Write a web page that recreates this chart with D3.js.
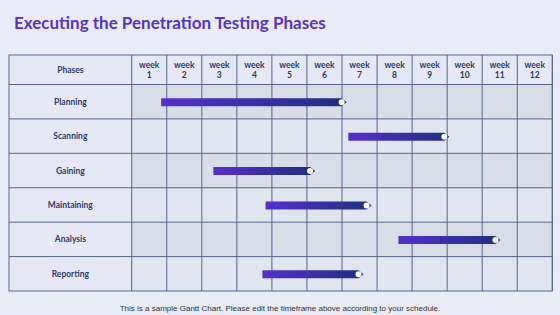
<!DOCTYPE html>
<meta charset="utf-8">
<script src="https://cdn.jsdelivr.net/npm/d3@7"></script>
<style>
body { margin: 0; background: #e9ebf6; }
.lbl { font-family: "Lato", "DejaVu Sans", sans-serif; font-weight: bold; font-size: 8.5px; fill: #2e3a6c; }
</style>
<body>
<script>
var weeks = ["1", "2", "3", "4", "5", "6", "7", "8", "9", "10", "11", "12"]
var phases = ["Planning", "Scanning", "Gaining", "Maintaining", "Analysis", "Reporting"]
var starts = [0.84, 6.18, 2.33, 3.82, 7.61, 3.73]
var ends = [5.99, 8.92, 5.09, 6.70, 10.38, 6.47]

var W = 560, H = 315
// table edges (avoid window.top name clash)
var tLeft = 9, tSplit = 131.7, tRight = 552.3, tTop = 55, tHead = 84.5, tBottom = 291

var svg = d3.select("body").append("svg").attr("width", W).attr("height", H)
svg.append("rect").attr("width", W).attr("height", H).attr("fill", "#e9ebf6")

var defs = svg.append("defs")
var grad = defs.append("linearGradient").attr("id", "barGrad")
grad.append("stop").attr("offset", "0%").attr("stop-color", "#5530cc")
grad.append("stop").attr("offset", "100%").attr("stop-color", "#1e2f7f")

svg.append("text").attr("x", 14).attr("y", 29)
  .attr("font-family", "Lato, 'DejaVu Sans', sans-serif").attr("font-weight", "bold")
  .attr("font-size", 17).attr("fill", "#5634c4")
  .text("Executing the Penetration Testing Phases")

var x = d3.scaleLinear().domain([0, weeks.length]).range([tSplit, tRight])
var y = d3.scaleBand().domain(phases).range([tHead, tBottom])
var col = d3.scaleBand().domain(weeks).range([tSplit, tRight])

// header
svg.append("rect").attr("x", tLeft).attr("y", tTop).attr("width", tRight - tLeft).attr("height", tHead - tTop).attr("fill", "#e6e9f5")
svg.append("text").attr("class", "lbl").attr("x", (tLeft + tSplit) / 2).attr("y", 73).attr("text-anchor", "middle").text("Phases")

var hd = svg.selectAll(".hd").data(weeks).enter().append("g")
hd.append("text").attr("class", "lbl").attr("x", d => col(d) + col.bandwidth() / 2).attr("y", 68).attr("text-anchor", "middle").text("week")
hd.append("text").attr("class", "lbl").attr("x", d => col(d) + col.bandwidth() / 2).attr("y", 78).attr("text-anchor", "middle").text(d => d)

// rows
svg.selectAll(".pc").data(phases).enter().append("rect")
  .attr("x", tLeft).attr("y", d => y(d)).attr("width", tSplit - tLeft).attr("height", y.bandwidth())
  .attr("fill", "#e6e9f5")
svg.selectAll(".wc").data(phases).enter().append("rect")
  .attr("x", tSplit).attr("y", d => y(d)).attr("width", tRight - tSplit).attr("height", y.bandwidth())
  .attr("fill", (d, i) => i % 2 == 0 ? "#d8dde8" : "#e1e5ef")
svg.selectAll(".pl").data(phases).enter().append("text").attr("class", "lbl")
  .attr("x", (tLeft + tSplit) / 2).attr("y", d => y(d) + y.bandwidth() / 2 + 3)
  .attr("text-anchor", "middle").text(d => d)

// grid
var g = svg.append("g").attr("stroke", "#56648e").attr("stroke-width", 1).attr("fill", "none")
g.selectAll(".v").data(d3.range(weeks.length + 1)).enter().append("line")
  .attr("x1", d => x(d)).attr("x2", d => x(d)).attr("y1", tTop).attr("y2", tBottom)
g.selectAll(".h").data(phases).enter().append("line")
  .attr("x1", tLeft).attr("x2", tRight).attr("y1", d => y(d)).attr("y2", d => y(d))
g.append("rect").attr("x", tLeft).attr("y", tTop).attr("width", tRight - tLeft).attr("height", tBottom - tTop)

// bars
var bh = 4
phases.forEach(function (p, i) {
  var cy = y(p) + y.bandwidth() / 2 + 0.5
  var x0 = x(starts[i]), x1 = x(ends[i])
  svg.append("path")
    .attr("d", "M" + x0 + "," + (cy - bh) + "H" + x1 + "L" + (x1 + 5) + "," + cy + "L" + x1 + "," + (cy + bh) + "H" + x0 + "Z")
    .attr("fill", "url(#barGrad)")
  svg.append("circle").attr("cx", x1).attr("cy", cy).attr("r", 3).attr("fill", "#fff")
})

svg.append("text").attr("x", 280).attr("y", 311).attr("text-anchor", "middle")
  .attr("font-family", "'Liberation Sans', Arial, sans-serif").attr("font-size", 8).attr("fill", "#333")
  .text("This is a sample Gantt Chart. Please edit the timeframe above according to your schedule.")
</script>
</body>
</html>
